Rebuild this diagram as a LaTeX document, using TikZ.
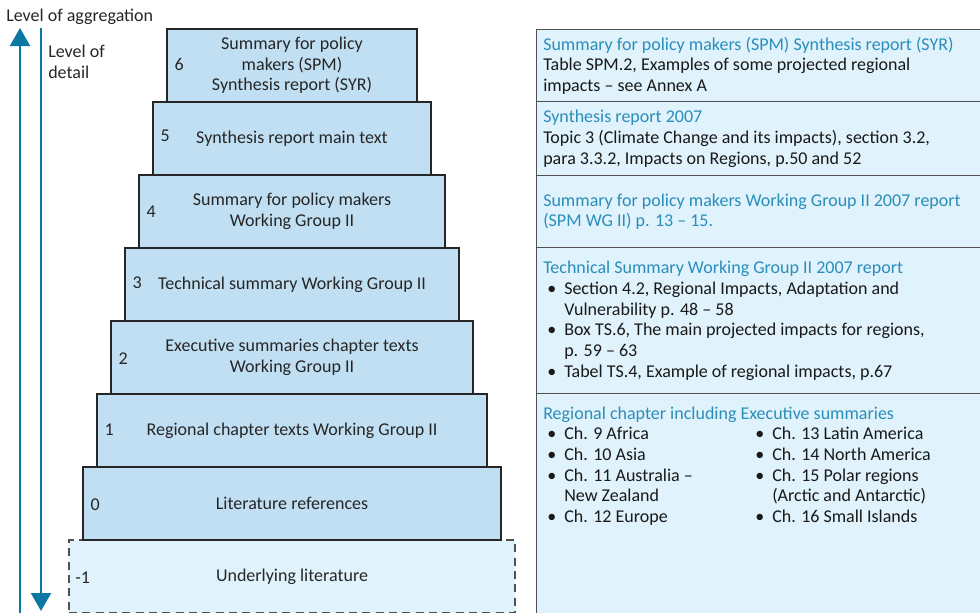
\documentclass[tikz,border=0pt]{standalone}
\usepackage{fontspec}
\setmainfont{Carlito}
\usetikzlibrary{positioning}
\usetikzlibrary{arrows.meta}

\definecolor{tierblue}{HTML}{C1DFF2}
\definecolor{paleblue}{HTML}{E0F2FB}
\definecolor{headblue}{HTML}{2A8EBB}
\definecolor{arrowblue}{HTML}{0B78A3}
\definecolor{edgegray}{HTML}{505050}

\newcommand{\itm}{\hspace*{3pt}\makebox[12.75pt][l]{\textbullet}}
\newcommand{\cnt}{\hspace*{15.75pt}}

\tikzset{
  tier/.style={draw=black!85, fill=tierblue, line width=0.8pt, align=center,
    minimum height=54.75pt, inner sep=0pt, text=black!85},
  lvl/.style={inner sep=0pt, anchor=west, text=black!85},
  refbox/.style={draw=edgegray, fill=paleblue, line width=1pt, anchor=north west,
    minimum width=345pt, inner sep=0pt},
  reftext/.style={anchor=west, align=left, inner sep=0pt, text=black!90},
  scale arrow/.style={draw=arrowblue, line width=1.6pt,
    -{Triangle[width=15pt,length=13.5pt]}}
}

\begin{document}
\begin{tikzpicture}[x=0.75pt,y=-0.75pt,font=\fontsize{13.5pt}{15.5pt}\selectfont]
    \useasboundingbox (0,0) rectangle (980,612);

    % pyramid
    \node[tier, minimum width=334.5pt, fill=paleblue, draw=edgegray, dashed, dash pattern=on 6pt off 4pt] (tm1) at (292,576.5) {Underlying literature};
    \node[tier, minimum width=313.5pt] (t0) at (292,503.5) {Literature references};
    \node[tier, minimum width=292.5pt] (t1) at (292,430.5) {Regional chapter texts Working Group II};
    \node[tier, minimum width=271.5pt] (t2) at (292,357.5) {Executive summaries chapter texts\\Working Group II};
    \node[tier, minimum width=250.5pt] (t3) at (292,284.5) {Technical summary Working Group II};
    \node[tier, minimum width=229.5pt] (t4) at (292,211.5) {Summary for policy makers\\Working Group II};
    \node[tier, minimum width=208.5pt] (t5) at (292,138.5) {Synthesis report main text};
    \node[tier, minimum width=187.5pt] (t6) at (292,65.5) {Summary for policy\\makers (SPM)\\Synthesis report (SYR)};

    \node[lvl] (n6) at ([xshift=6pt,yshift=1pt]t6.west) {6};
    \node[lvl] (n5) at ([xshift=6pt,yshift=2pt]t5.west) {5};
    \node[lvl] (n4) at ([xshift=6pt,yshift=0pt]t4.west) {4};
    \node[lvl] (n3) at ([xshift=6pt,yshift=1pt]t3.west) {3};
    \node[lvl] (n2) at ([xshift=6pt,yshift=-0.5pt]t2.west) {2};
    \node[lvl] (n1) at ([xshift=6pt,yshift=0.5pt]t1.west) {1};
    \node[lvl] (n0) at ([xshift=6pt,yshift=-1pt]t0.west) {0};
    \node[lvl] (nm1) at ([xshift=5pt,yshift=-1pt]tm1.west) {-1};

    % reference boxes
    \node[refbox, minimum height=54pt] (r6) at (536,29) {};
    \node[refbox, minimum height=55.5pt] (r5) at (536,101) {};
    \node[refbox, minimum height=54pt] (r4) at (536,175) {};
    \node[refbox, minimum height=109.5pt] (r3) at (536,247) {};
    \node[refbox, minimum height=172.5pt] (r1) at (536,393) {};

    \node[reftext] (s6) at ([xshift=5.25pt]r6.west)
      {{\color{headblue}Summary for policy makers (SPM) Synthesis report (SYR)}\\
       Table SPM.2, Examples of some projected regional\\
       impacts -- see Annex A};
    \node[reftext] (s5) at ([xshift=5.25pt]r5.west)
      {{\color{headblue}Synthesis report 2007}\\
       Topic 3 (Climate Change and its impacts), section 3.2,\\
       para 3.3.2, Impacts on Regions, p.50 and 52};
    \node[reftext, text=headblue] (s4) at ([xshift=5.25pt]r4.west)
      {Summary for policy makers Working Group II 2007 report\\
       (SPM WG II) p. 13 -- 15.};
    \node[reftext] (s3) at ([xshift=5.25pt]r3.west)
      {{\color{headblue}Technical Summary Working Group II 2007 report}\\
       \itm Section 4.2, Regional Impacts, Adaptation and\\
       \cnt Vulnerability p. 48 -- 58\\
       \itm Box TS.6, The main projected impacts for regions,\\
       \cnt p. 59 -- 63\\
       \itm Tabel TS.4, Example of regional impacts, p.67};
    \node[reftext, anchor=north west] (s1) at ([xshift=5.25pt,yshift=-10pt]r1.north west)
      {{\color{headblue}Regional chapter including Executive summaries}\\
       \itm Ch. 9 Africa\\
       \itm Ch. 10 Asia\\
       \itm Ch. 11 Australia --\\
       \cnt New Zealand\\
       \itm Ch. 12 Europe};
    \node[reftext, anchor=north west] (s1b) at ([xshift=156pt,yshift=-15.5pt]s1.north west)
      {\itm Ch. 13 Latin America\\
       \itm Ch. 14 North America\\
       \itm Ch. 15 Polar regions\\
       \cnt (Arctic and Antarctic)\\
       \itm Ch. 16 Small Islands};

    % axes
    \coordinate (aggLow) at (20,614);
    \coordinate (aggHigh) at (20,28);
    \coordinate (detHigh) at (41,28);
    \coordinate (detLow) at (41,611);
    \draw[scale arrow] (aggLow) -- (aggHigh);
    \draw[scale arrow] (detHigh) -- (detLow);

    \node[anchor=west, inner sep=0pt, text=black!85] (agg) at (6,17) {Level of aggregation};
    \node[anchor=north west, align=left, inner sep=0pt, text=black!85] (det) at (48,45) {Level of\\detail};
\end{tikzpicture}
\end{document}
